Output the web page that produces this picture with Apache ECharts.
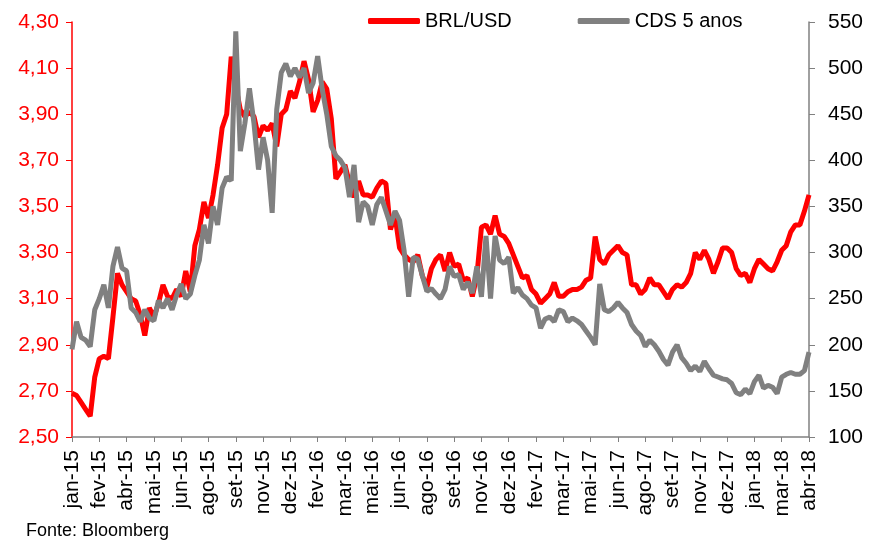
<!DOCTYPE html>
<html>
<head>
<meta charset="utf-8">
<script src="https://cdn.jsdelivr.net/npm/echarts@6/dist/echarts.min.js"></script>
<style>
  html, body { margin: 0; padding: 0; background: #fff; }
  #chart { width: 870px; height: 542px; }
</style>
</head>
<body>
<div id="chart"></div>
<script>
// tick labels, one every 6 points
const tickLabels = ['jan-15', 'fev-15', 'abr-15', 'mai-15', 'jun-15', 'ago-15', 'set-15', 'nov-15', 'dez-15',
    'fev-16', 'mar-16', 'mai-16', 'jun-16', 'ago-16', 'set-16', 'nov-16', 'dez-16',
    'fev-17', 'mar-17', 'mai-17', 'jun-17', 'ago-17', 'set-17', 'nov-17', 'dez-17',
    'jan-18', 'mar-18', 'abr-18'];
const step = 6;

// BRL/USD (left axis)
const brlUsd = [
    2.69, 2.68, 2.65, 2.62, 2.59, 2.76, 2.84, 2.85, 2.84, 3.02,
    3.21, 3.16, 3.13, 3.10, 3.09, 3.03, 2.94, 3.06, 3.02, 3.08,
    3.16, 3.11, 3.10, 3.14, 3.11, 3.22, 3.13, 3.33, 3.40, 3.52,
    3.45, 3.55, 3.68, 3.84, 3.90, 4.15, 4.02, 3.92, 3.89, 3.91,
    3.89, 3.80, 3.85, 3.83, 3.86, 3.76, 3.90, 3.92, 4.00, 3.97,
    4.04, 4.13, 4.05, 3.91, 3.96, 4.04, 4.01, 3.88, 3.62, 3.65,
    3.68, 3.60, 3.54, 3.61, 3.55, 3.55, 3.54, 3.58, 3.61, 3.60,
    3.40, 3.46, 3.32, 3.29, 3.27, 3.26, 3.29, 3.20, 3.15, 3.23,
    3.27, 3.29, 3.22, 3.30, 3.24, 3.25, 3.18, 3.19, 3.11, 3.20,
    3.41, 3.42, 3.38, 3.46, 3.38, 3.37, 3.34, 3.29, 3.24, 3.19,
    3.20, 3.14, 3.12, 3.08, 3.10, 3.12, 3.17, 3.11, 3.11, 3.13,
    3.14, 3.14, 3.15, 3.18, 3.19, 3.37, 3.27, 3.25, 3.29, 3.31,
    3.33, 3.30, 3.29, 3.16, 3.16, 3.12, 3.14, 3.19, 3.16, 3.16,
    3.13, 3.10, 3.14, 3.16, 3.15, 3.17, 3.21, 3.30, 3.27, 3.31,
    3.27, 3.21, 3.26, 3.32, 3.32, 3.30, 3.23, 3.20, 3.21, 3.17,
    3.23, 3.27, 3.25, 3.23, 3.22, 3.26, 3.31, 3.33, 3.39, 3.42,
    3.42, 3.48, 3.55
];

// CDS 5 anos (right axis)
const cds5 = [
    195, 225, 208, 205, 198, 238, 250, 265, 240, 285,
    306, 283, 280, 240, 235, 225, 238, 229, 226, 248,
    240, 250, 238, 254, 266, 250, 255, 275, 292, 330,
    310, 350, 330, 370, 382, 378, 540, 410, 440, 478,
    440, 390, 425, 400, 343, 455, 495, 505, 491, 500,
    490, 500, 473, 484, 513, 477, 450, 415, 405, 400,
    392, 360, 395, 333, 355, 350, 330, 352, 360, 345,
    330, 345, 335, 302, 252, 295, 293, 275, 258, 261,
    255, 250, 260, 285, 274, 276, 260, 268, 256, 285,
    252, 318, 250, 318, 292, 288, 295, 256, 262, 254,
    250, 243, 240, 218, 228, 230, 225, 238, 236, 225,
    229, 226, 222, 215, 208, 200, 266, 238, 236, 240,
    246, 240, 235, 222, 215, 210, 198, 205, 200, 193,
    184, 178, 192, 200, 186, 180, 172, 177, 171, 182,
    174, 167, 165, 163, 162, 158, 148, 146, 152, 147,
    160, 167, 153, 156, 154, 147, 165, 168, 170, 168,
    168, 172, 192
];

const categories = brlUsd.map((v, i) => (i % step === 0 ? tickLabels[i / step] : ''));

const chart = echarts.init(document.getElementById('chart'));
chart.setOption({
    animation: false,
    textStyle: { fontFamily: 'Liberation Sans, Arial, sans-serif' },
    legend: {
        left: 363,
        top: 6,
        itemWidth: 52,
        itemHeight: 6,
        itemGap: 66,
        icon: 'roundRect',
        textStyle: { fontSize: 20, color: '#000' },
        data: ['BRL/USD', 'CDS 5 anos']
    },
    graphic: [{
        type: 'text',
        left: 26,
        top: 522,
        style: { text: 'Fonte: Bloomberg', fontSize: 18, fill: '#000', fontFamily: 'Liberation Sans, Arial, sans-serif' }
    }],
    grid: { left: 72, right: 61, top: 22, bottom: 105, containLabel: false },
    xAxis: {
        type: 'category',
        data: categories,
        boundaryGap: false,
        axisLine: { lineStyle: { color: '#808080', width: 1.5 } },
        axisTick: { interval: step - 1, length: 5, lineStyle: { color: '#808080' } },
        axisLabel: { interval: step - 1, rotate: 90, fontSize: 21, color: '#000', margin: 13 },
        splitLine: { show: false }
    },
    yAxis: [{
        type: 'value',
        min: 2.5,
        max: 4.3,
        interval: 0.2,
        position: 'left',
        axisLine: { show: true, lineStyle: { color: '#ff0000', width: 1.5 } },
        axisTick: { show: true, length: 6, lineStyle: { color: '#ff0000' } },
        axisLabel: { fontSize: 21, color: '#ff0000', margin: 13,
            formatter: (v) => v.toFixed(2).replace('.', ',') },
        splitLine: { show: false }
    }, {
        type: 'value',
        min: 100,
        max: 550,
        interval: 50,
        position: 'right',
        axisLine: { show: true, lineStyle: { color: '#808080', width: 1.5 } },
        axisTick: { show: true, length: 6, lineStyle: { color: '#808080' } },
        axisLabel: { fontSize: 21, color: '#000', margin: 19 },
        splitLine: { show: false }
    }],
    series: [{
        name: 'BRL/USD',
        type: 'line',
        yAxisIndex: 0,
        data: brlUsd,
        showSymbol: false,
        color: '#ff0000',
        lineStyle: { width: 5, color: '#ff0000' }
    }, {
        name: 'CDS 5 anos',
        type: 'line',
        yAxisIndex: 1,
        data: cds5,
        showSymbol: false,
        color: '#808080',
        lineStyle: { width: 5, color: '#808080' }
    }]
});
</script>
</body>
</html>
